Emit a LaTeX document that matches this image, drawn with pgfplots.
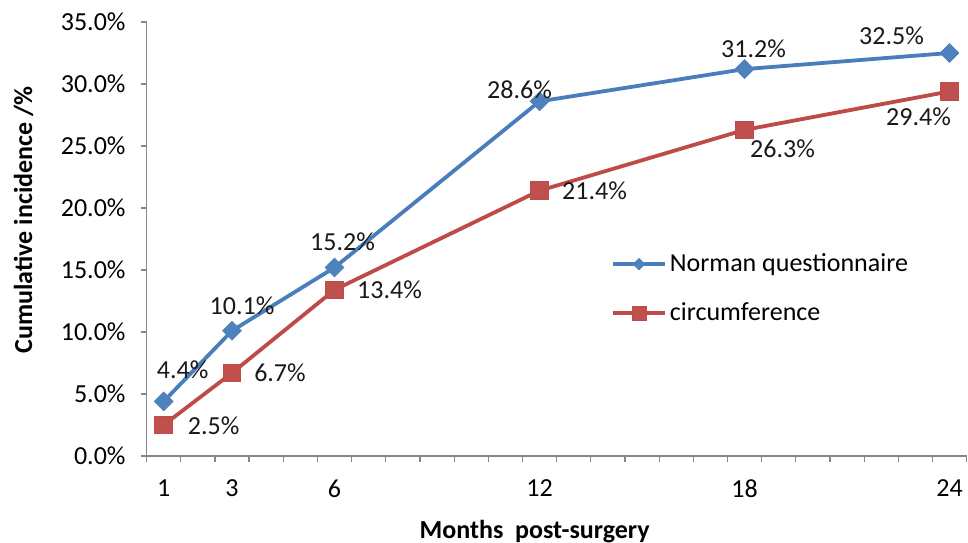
\documentclass[border=0pt]{standalone}
\usepackage{fontspec}
\setmainfont{Carlito}
\usepackage{pgfplots}
\usepackage{pgfplotstable}
\pgfplotsset{compat=1.18}
\definecolor{nblue}{HTML}{4A7EBB}
\definecolor{nbluef}{HTML}{4F81BD}
\definecolor{cred}{HTML}{BE4B48}
\definecolor{credf}{HTML}{C0504D}
\definecolor{axgray}{HTML}{868686}

\pgfplotstableread{
x y dx dy
1 4.4 9.5 16
3 10.1 5 12.5
6 15.2 4 13
12 28.6 -10 6
18 31.2 4.5 10
24 32.5 -29 8.5
}\norman
\pgfplotstableread{
x y dx dy
1 2.5 25 -0.5
3 6.7 24 0
6 13.4 27.5 0
12 21.4 27.5 0
18 26.3 19 -9.5
24 29.4 -15.5 -12.5
}\circum

\begin{document}
\fontsize{13}{15.6}\selectfont
\begin{tikzpicture}
\begin{axis}[
  scale only axis, width=410pt, height=217pt,
  xmin=0.5, xmax=24.5, ymin=0, ymax=35,
  clip=false,
  axis lines=left,
  axis line style={-, axgray, line width=0.6pt},
  tick align=outside,
  every tick/.style={axgray, line width=0.6pt},
  major tick length=3pt,
  xtick={0.5,1.5,...,24.5},
  xticklabels={},
  extra x ticks={1,3,6,12,18,24},
  extra x tick labels={1,3,6,12,18,24},
  extra x tick style={major tick length=0pt},
  ytick={0,5,...,35},
  /pgf/number format/assume math mode=true,
  yticklabel={\pgfmathprintnumber[fixed,fixed zerofill,precision=1]{\tick}\%},
  yticklabel style={xshift=-3pt},
  xticklabel style={yshift=-7.5pt},
  ylabel={\bfseries Cumulative incidence /\%},
  ylabel style={at={(rel axis cs:0,0.544)}, anchor=center, yshift=61.5pt},
  xlabel={\bfseries Months\ \ post-surgery},
  xlabel style={at={(rel axis cs:0.5,0)}, anchor=base, yshift=-41pt, xshift=-11pt},
  legend style={at={(0.566,0.475)}, anchor=north west, draw=none, fill=none,
    row sep=10.5pt, inner sep=0pt, nodes={inner sep=1.5pt}},
  legend cell align=left,
  legend image code/.code={\draw[mark repeat=2, mark phase=2, #1]
    plot coordinates {(0pt,0pt) (13pt,0pt) (26pt,0pt)};},
  nodes near coords={\pgfmathprintnumber[fixed,fixed zerofill,precision=1,assume math mode=true]{\pgfplotspointmeta}\%},
  visualization depends on={\thisrow{dx} \as \dx},
  visualization depends on={\thisrow{dy} \as \dy},
  nodes near coords style={anchor=center, xshift=\dx pt, yshift=\dy pt, text=black!90},
]
\addplot[nblue, line width=1.9pt, mark=square*, mark size=3.3pt,
  mark options={solid, rotate=45, fill=nbluef, draw=nbluef, line width=0.4pt},
  legend image post style={mark size=2pt}]
  table[x=x, y=y, meta=y]{\norman};
\addlegendentry{Norman questionnaire}
\addplot[cred, line width=1.9pt, mark=square*, mark size=4.4pt,
  mark options={solid, fill=credf, draw=cred, line width=0.4pt},
  legend image post style={mark size=3.5pt}]
  table[x=x, y=y, meta=y]{\circum};
\addlegendentry{circumference}
\coordinate (O) at (rel axis cs:0,0);
\end{axis}
\pgfresetboundingbox
\path (O) ++(-73.3pt,-43pt) rectangle ++(484pt,271pt);
\end{tikzpicture}
\end{document}
